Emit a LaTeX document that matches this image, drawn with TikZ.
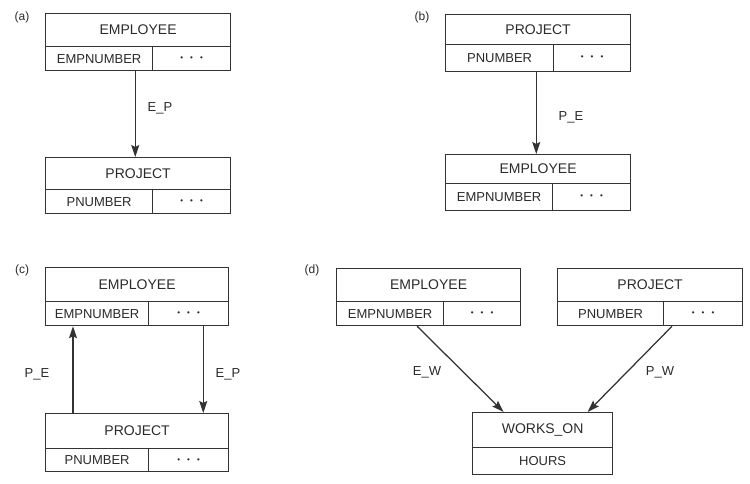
\documentclass[tikz,border=0pt]{standalone}
\usepackage{fontspec}
\setmainfont{Liberation Sans}
\usetikzlibrary{arrows.meta}
\definecolor{lc}{HTML}{333333}
\definecolor{tc}{HTML}{2A2A2A}
\newcommand{\dotsrow}{{\fontsize{8}{10}\selectfont\textbullet\hspace{7pt}\textbullet\hspace{7pt}\textbullet}}
\begin{document}
\begin{tikzpicture}[x=1pt,y=-1pt,
  cell/.style={draw=lc, line width=1.25pt, anchor=north west, inner sep=0pt, text=tc},
  hd/.style={cell, font=\fontsize{14}{16}\selectfont},
  attr/.style={cell, font=\fontsize{13}{15}\selectfont},
  arr/.style={draw=lc, line width=1.25pt, -{Stealth[length=12pt,width=8pt,inset=2pt]}},
  lbl/.style={text=tc, font=\fontsize{13}{15}\selectfont, inner sep=1pt},
  tag/.style={text=tc, font=\fontsize{12}{14}\selectfont, inner sep=1pt}]
\useasboundingbox (0,0) rectangle (750,483);

% (a) EMPLOYEE -> PROJECT
\node[tag] (ta) at (22,17) {(a)};
\node[hd, minimum width=185pt, minimum height=33pt] (aEh) at (45,13) {EMPLOYEE};
\node[attr, minimum width=107pt, minimum height=24pt] (aEk) at (45,46) {EMPNUMBER};
\node[attr, minimum width=78pt, minimum height=24pt] (aEd) at (152,46) {\dotsrow};
\node[hd, minimum width=185pt, minimum height=32pt] (aPh) at (45,157) {PROJECT};
\node[attr, minimum width=107pt, minimum height=24pt] (aPk) at (45,189) {PNUMBER};
\node[attr, minimum width=78pt, minimum height=24pt] (aPd) at (152,189) {\dotsrow};
\coordinate (aS) at ([xshift=-18pt]aEk.south east);
\draw[arr] (aS) -- (aS |- aPh.north);
\node[lbl] (aL) at (160,108) {E\_P};

% (b) PROJECT -> EMPLOYEE
\node[tag] (tb) at (422,17) {(b)};
\node[hd, minimum width=185pt, minimum height=30pt] (bPh) at (445,14) {PROJECT};
\node[attr, minimum width=108pt, minimum height=27pt] (bPk) at (445,44) {PNUMBER};
\node[attr, minimum width=77pt, minimum height=27pt] (bPd) at (553,44) {\dotsrow};
\node[hd, minimum width=185pt, minimum height=29pt] (bEh) at (445,154) {EMPLOYEE};
\node[attr, minimum width=107pt, minimum height=27pt] (bEk) at (445,183) {EMPNUMBER};
\node[attr, minimum width=78pt, minimum height=27pt] (bEd) at (552,183) {\dotsrow};
\coordinate (bS) at ([xshift=-18pt]bPk.south east);
\draw[arr] (bS) -- (bS |- bEh.north);
\node[lbl] (bL) at (571,117) {P\_E};

% (c) links in both directions
\node[tag] (tc) at (22,270) {(c)};
\node[hd, minimum width=183pt, minimum height=34pt] (cEh) at (45,267) {EMPLOYEE};
\node[attr, minimum width=103pt, minimum height=24pt] (cEk) at (45,301) {EMPNUMBER};
\node[attr, minimum width=80pt, minimum height=24pt] (cEd) at (148,301) {\dotsrow};
\node[hd, minimum width=183pt, minimum height=35pt] (cPh) at (45,413) {PROJECT};
\node[attr, minimum width=103pt, minimum height=23pt] (cPk) at (45,448) {PNUMBER};
\node[attr, minimum width=80pt, minimum height=23pt] (cPd) at (148,448) {\dotsrow};
\coordinate (cA) at ([xshift=28pt]cPh.north west);
\draw[arr] (cA) -- (cA |- cEk.south);
\coordinate (cB) at ([xshift=-26pt]cEd.south east);
\draw[arr] (cB) -- (cB |- cPh.north);
\node[lbl] (cL1) at (37,374) {P\_E};
\node[lbl] (cL2) at (228,374) {E\_P};

% (d) link record WORKS_ON
\node[tag] (td) at (312,270) {(d)};
\node[hd, minimum width=184pt, minimum height=33pt] (dEh) at (336,268) {EMPLOYEE};
\node[attr, minimum width=107pt, minimum height=24pt] (dEk) at (336,301) {EMPNUMBER};
\node[attr, minimum width=77pt, minimum height=24pt] (dEd) at (443,301) {\dotsrow};
\node[hd, minimum width=185pt, minimum height=33pt] (dPh) at (557,268) {PROJECT};
\node[attr, minimum width=106pt, minimum height=24pt] (dPk) at (557,301) {PNUMBER};
\node[attr, minimum width=79pt, minimum height=24pt] (dPd) at (663,301) {\dotsrow};
\node[hd, minimum width=140pt, minimum height=35pt] (dWh) at (472,412) {WORKS\_ON};
\node[attr, minimum width=140pt, minimum height=27pt] (dWa) at (472,447) {HOURS};
\coordinate (dA) at ([xshift=27pt]dEk.south);
\coordinate (dB) at ([xshift=9pt]dPd.south west);
\draw[arr] (dA) -- ([xshift=-39pt]dWh.north);
\draw[arr] (dB) -- ([xshift=45pt]dWh.north);
\node[lbl] (dL1) at (427,372) {E\_W};
\node[lbl] (dL2) at (660,372) {P\_W};
\end{tikzpicture}
\end{document}
